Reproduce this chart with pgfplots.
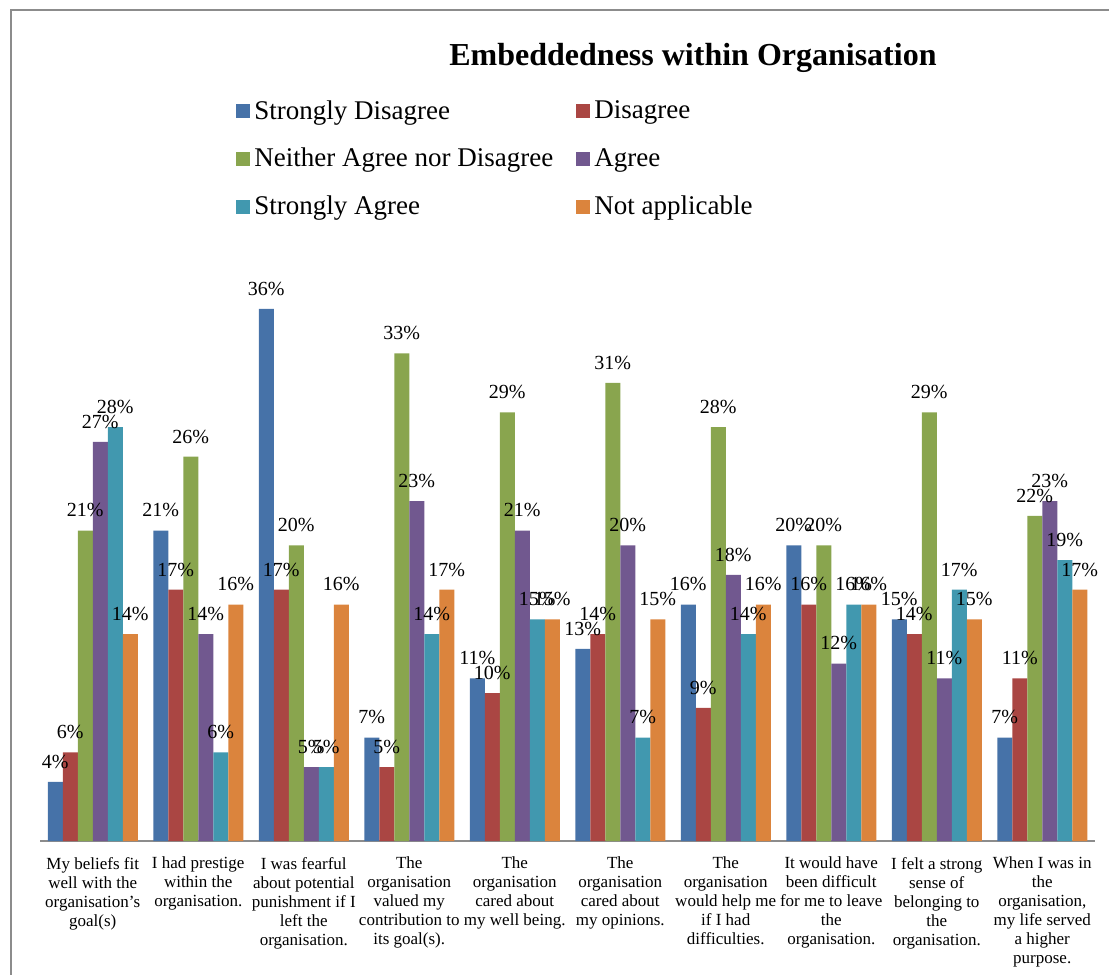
\documentclass[border=0pt]{standalone}
\usepackage{fontspec}
\setmainfont{Liberation Serif}
\usepackage{pgfplots}
\pgfplotsset{compat=1.18}
\definecolor{cSD}{HTML}{4672A8}
\definecolor{cD}{HTML}{AA4643}
\definecolor{cN}{HTML}{89A54E}
\definecolor{cA}{HTML}{71588F}
\definecolor{cSA}{HTML}{4198AF}
\definecolor{cNA}{HTML}{DB843D}
\begin{document}
\begin{tikzpicture}[x=1pt,y=1pt]
\useasboundingbox (-20,-67) rectangle (534.5,420.5);
\draw[line width=1pt, color=black!45] (-14.5,415.5) rectangle (600,-120);
\node[font=\fontsize{16}{19}\selectfont\bfseries] at (326.5,391.5) {Embeddedness within Organisation};
\begin{axis}[
  at={(0,0)}, anchor=south west,
  scale only axis, width=527.5pt, height=295.6pt,
  xmin=-0.5, xmax=9.5, ymin=0, ymax=40,
  ybar=0pt, bar width=7.5pt,
  axis x line*=bottom, axis y line=none,
  x axis line style={draw=black!45, line width=1pt, -},
  xtick={0,...,9}, major tick length=0pt,
  xticklabels={
    {My beliefs fit\\well with the\\organisation's\\goal(s)},
    {I had prestige\\within the\\organisation.},
    {I was fearful\\about potential\\punishment if I\\left the\\organisation.},
    {The\\organisation\\valued my\\contribution to\\its goal(s).},
    {The\\organisation\\cared about\\my well being.},
    {The\\organisation\\cared about\\my opinions.},
    {The\\organisation\\would help me\\if I had\\difficulties.},
    {It would have\\been difficult\\for me to leave\\the\\organisation.},
    {I felt a strong\\sense of\\belonging to\\the\\organisation.},
    {When I was in\\the\\organisation,\\my life served\\a higher\\purpose.}},
  xticklabel style={align=center, font=\fontsize{8.5}{9.5}\selectfont, yshift=-4.5pt},
  /pgf/number format/assume math mode=true,
  nodes near coords={\pgfmathprintnumber{\pgfplotspointmeta}\%},
  every node near coord/.append style={font=\fontsize{10}{12}\selectfont, black, inner sep=2pt, yshift=4.5pt},
  legend columns=2,
  legend cell align=left,
  legend style={draw=none, fill=none, at={(0.18,1.267)}, anchor=north west,
    font=\fontsize{13.5}{16}\selectfont, row sep=9pt,
    /tikz/every even column/.append style={column sep=9.5pt}},
  legend image code/.code={\fill[#1] (0pt,-3.5pt) rectangle (7pt,3.5pt);},
]
\addplot[fill=cSD, draw=none] coordinates {(0,4) (1,21) (2,36) (3,7) (4,11) (5,13) (6,16) (7,20) (8,15) (9,7)};
\addplot[fill=cD, draw=none] coordinates {(0,6) (1,17) (2,17) (3,5) (4,10) (5,14) (6,9) (7,16) (8,14) (9,11)};
\addplot[fill=cN, draw=none] coordinates {(0,21) (1,26) (2,20) (3,33) (4,29) (5,31) (6,28) (7,20) (8,29) (9,22)};
\addplot[fill=cA, draw=none] coordinates {(0,27) (1,14) (2,5) (3,23) (4,21) (5,20) (6,18) (7,12) (8,11) (9,23)};
\addplot[fill=cSA, draw=none] coordinates {(0,28) (1,6) (2,5) (3,14) (4,15) (5,7) (6,14) (7,16) (8,17) (9,19)};
\addplot[fill=cNA, draw=none] coordinates {(0,14) (1,16) (2,16) (3,17) (4,15) (5,15) (6,16) (7,16) (8,15) (9,17)};
\legend{Strongly Disagree, Disagree, Neither Agree nor Disagree, Agree, Strongly Agree, Not applicable}
\end{axis}
\end{tikzpicture}
\end{document}
